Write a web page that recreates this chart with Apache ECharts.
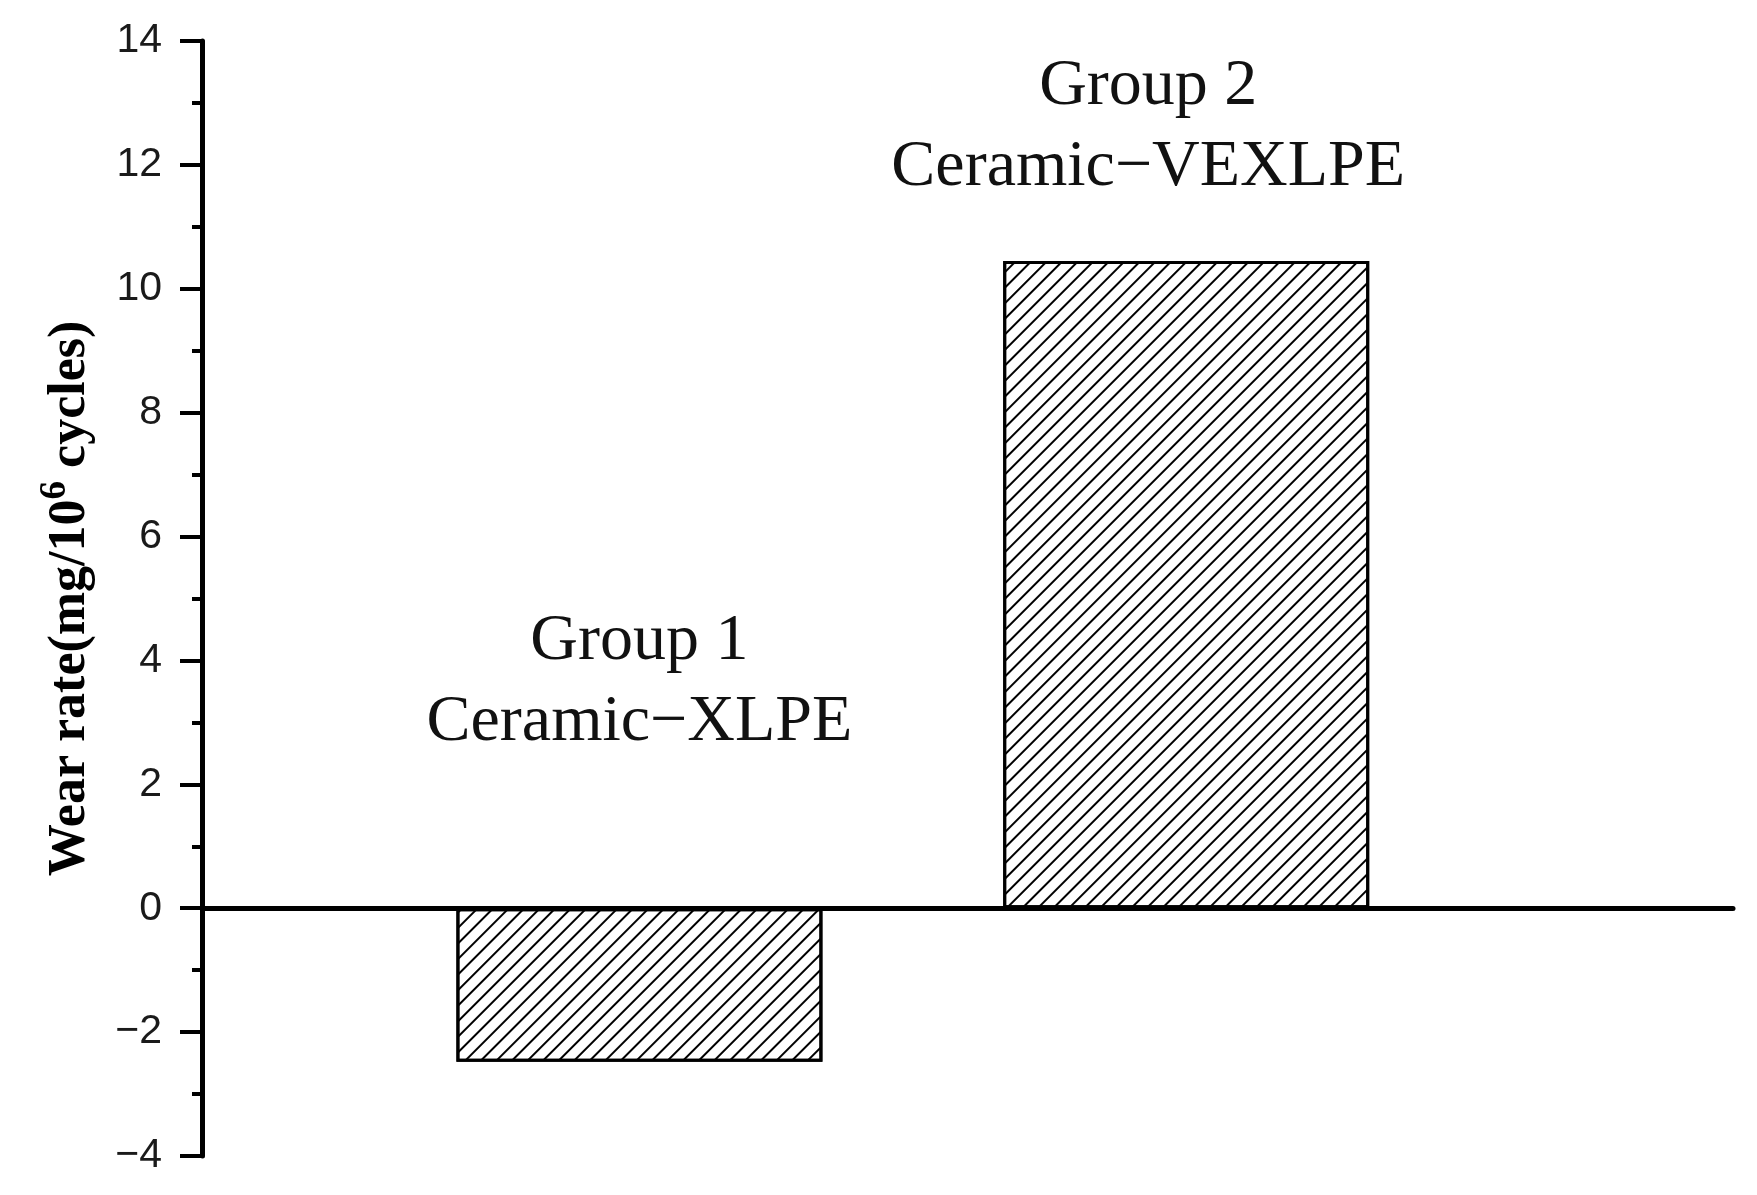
<!DOCTYPE html>
<html>
<head>
<meta charset="utf-8">
<script src="https://cdn.jsdelivr.net/npm/echarts@6/dist/echarts.min.js"></script>
<style>
html,body{margin:0;padding:0;background:#fff;}
#chart{width:1757px;height:1195px;}
</style>
</head>
<body>
<div id="chart"></div>
<script>
// ---- data ----
var groups = ['Group 1', 'Group 2'];
var materials = ['Ceramic\u2212XLPE', 'Ceramic\u2212VEXLPE'];
var xPositions = [1, 2];
var wearRate = [-2.48, 10.45];
var yTicks = [-4, -2, 0, 2, 4, 6, 8, 10, 12, 14];

// label placement tweaks (style only)
var labelDistance = [145, 53];
var labelOffsetX = [0, -38];

var chart = echarts.init(document.getElementById('chart'));

var barData = xPositions.map(function (x, i) {
  return {
    value: [x, wearRate[i]],
    label: {
      show: true,
      position: 'top',
      distance: labelDistance[i],
      offset: [labelOffsetX[i], 0],
      formatter: groups[i] + '\n' + materials[i]
    }
  };
});

var option = {
  backgroundColor: '#ffffff',
  animation: false,
  grid: { left: 202, right: 24, top: 41, bottom: 39, containLabel: false },
  xAxis: {
    type: 'value',
    min: 0.2,
    max: 3.0,
    axisLine: { show: true, onZero: true, lineStyle: { color: '#000', width: 5 } },
    axisTick: { show: false },
    axisLabel: { show: false },
    splitLine: { show: false }
  },
  yAxis: {
    type: 'value',
    min: yTicks[0],
    max: yTicks[yTicks.length - 1],
    interval: 2,
    name: '{b|Wear rate(mg/10}{s|6}{b| cycles)}',
    nameLocation: 'middle',
    nameGap: 99,
    nameRotate: 90,
    nameTextStyle: {
      rich: {
        b: { fontFamily: 'Liberation Serif', fontWeight: 'bold', fontSize: 52, color: '#000', lineHeight: 56 },
        s: { fontFamily: 'Liberation Serif', fontWeight: 'bold', fontSize: 37, color: '#000', lineHeight: 56, padding: [0, 0, 30, 0] }
      }
    },
    axisLine: { show: true, onZero: false, lineStyle: { color: '#000', width: 5 } },
    axisTick: { show: true, inside: false, length: 22, lineStyle: { color: '#000', width: 4 } },
    minorTick: { show: true, splitNumber: 2, length: 10, lineStyle: { color: '#000', width: 4 } },
    axisLabel: {
      margin: 40,
      fontFamily: 'Liberation Sans',
      fontSize: 41,
      color: '#1a1a1a',
      formatter: function (v) { return String(v).replace('-', '\u2212'); }
    },
    splitLine: { show: false }
  },
  series: [{
    type: 'bar',
    barWidth: 366,
    data: barData,
    itemStyle: {
      color: '#ffffff',
      borderColor: '#000',
      borderWidth: 3,
      decal: {
        symbol: 'rect',
        symbolSize: 1,
        color: '#000',
        dashArrayX: [1, 0],
        dashArrayY: [1.6, 9],
        rotation: -Math.PI / 4
      }
    },
    label: {
      fontFamily: 'Liberation Serif',
      fontSize: 66,
      lineHeight: 81,
      color: '#111',
      align: 'center'
    }
  }]
};

chart.setOption(option);
</script>
</body>
</html>
